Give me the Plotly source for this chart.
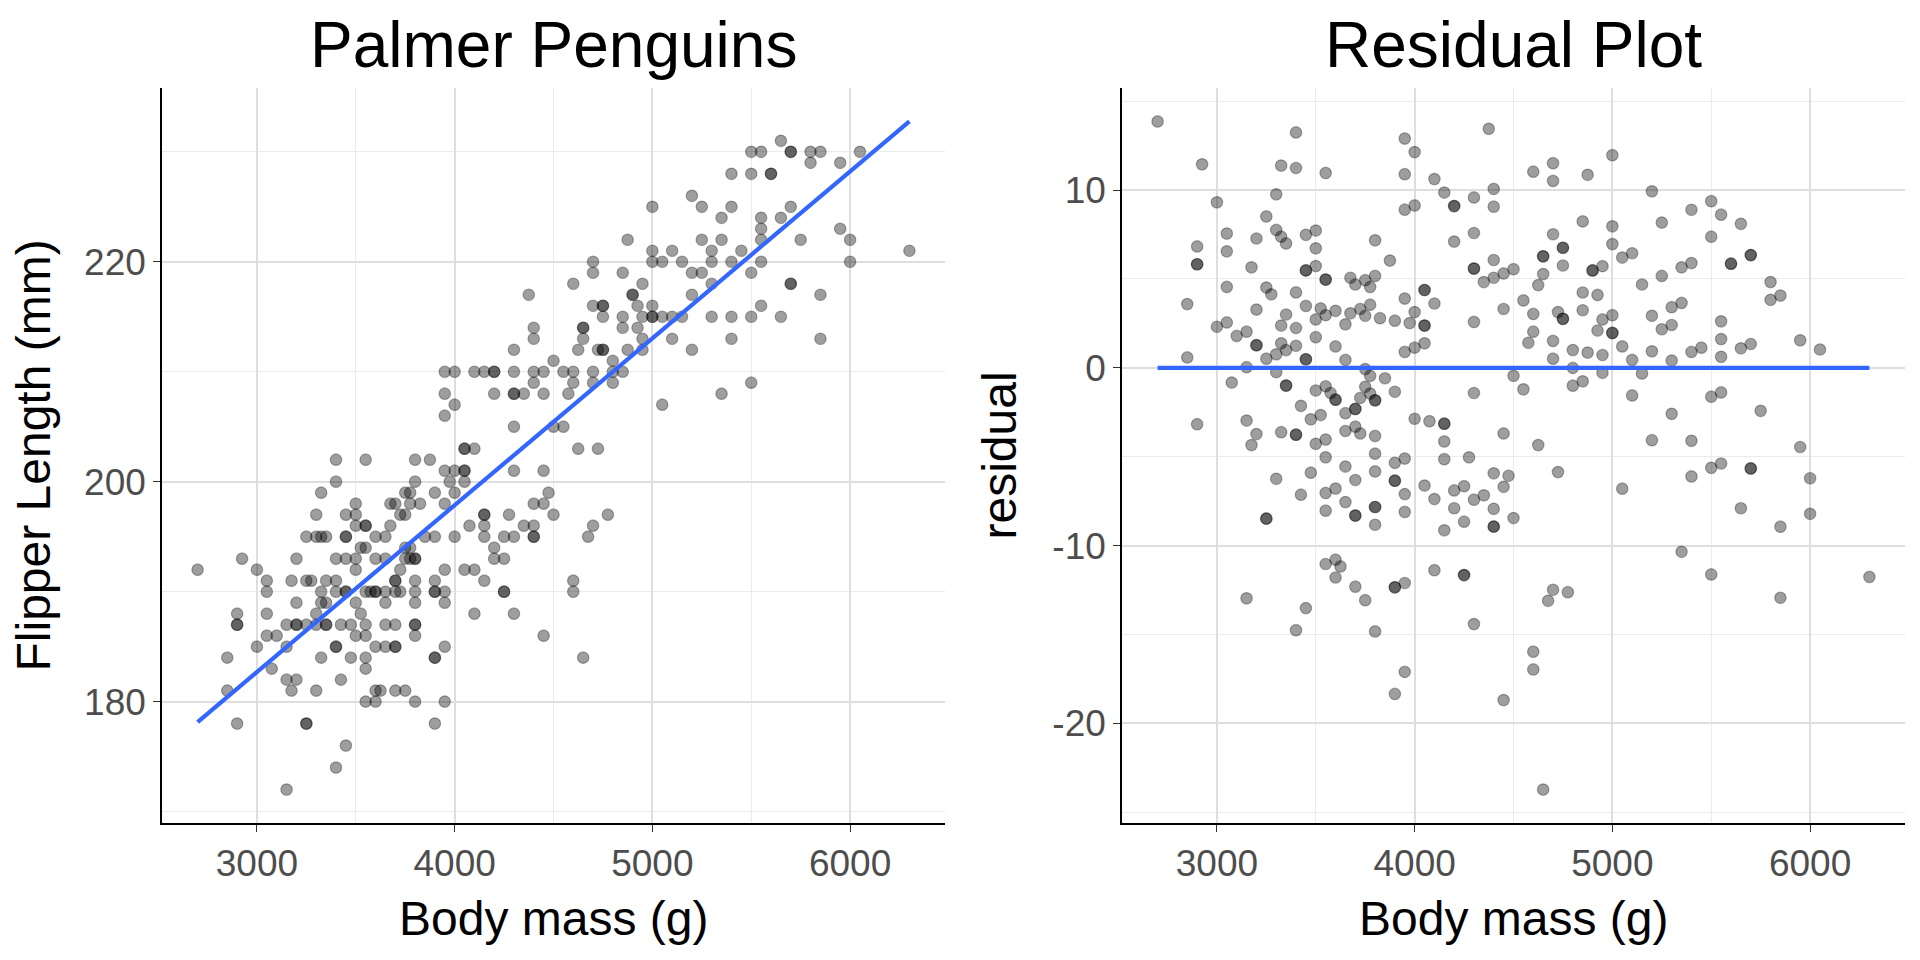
import numpy as np
import plotly.graph_objects as go

# Palmer penguins: one line per flipper length (mm)
body_mass_g = [
    3150,
    3400,
    3450,
    2900, 3250, 3250, 3900,
    3550, 3600, 3800, 3950,
    2850, 3175, 3300, 3600, 3625, 3700, 3750,
    3150, 3200, 3425,
    3075, 3550,
    2850, 3325, 3475, 3550, 3900, 3900, 4650,
    3000, 3150, 3400, 3400, 3600, 3650, 3700, 3700, 3950,
    3050, 3100, 3500, 3550, 3800, 4450,
    2900, 2900, 3150, 3200, 3200, 3250, 3300, 3350, 3350, 3425, 3475, 3550, 3650, 3700, 3800, 3800,
    2900, 3050, 3300, 3525, 4100, 4300,
    3200, 3325, 3350, 3500, 3650, 3800, 3950,
    3050, 3325, 3400, 3450, 3450, 3550, 3575, 3600, 3600, 3650, 3700, 3725, 3800, 3900, 3900, 3950, 4250, 4250, 4600,
    3050, 3175, 3250, 3275, 3350, 3400, 3700, 3700, 3800, 3900, 4150, 4600,
    2700, 3000, 3500, 3725, 3950, 4050, 4100,
    2925, 3200, 3400, 3450, 3500, 3600, 3650, 3750, 3775, 3800, 3800, 4200, 4250,
    3525, 3550, 3750, 3775, 4200,
    3250, 3300, 3325, 3350, 3450, 3450, 3600, 3650, 3850, 3900, 4000, 4150, 4250, 4300, 4400, 4400, 4675,
    3500, 3550, 3550, 3675, 4075, 4150, 4350, 4400, 4700,
    3300, 3450, 3500, 3725, 3750, 4150, 4150, 4275, 4500, 4775,
    3500, 3675, 3700, 3775, 3825, 3950, 4400, 4450,
    3325, 3750, 3775, 3900, 4000, 4475,
    3400, 3800, 3975, 4050,
    3950, 4000, 4050, 4050, 4300, 4450,
    3400, 3550, 3800, 3875,
    4050, 4050, 4100, 4625, 4725,
    4300, 4500, 4550,
    3950,
    4000, 5050,
    3950, 4200, 4300, 4300, 4350, 4450, 4575, 5350,
    4400, 4600, 4700, 4800, 5500,
    3950, 4000, 4100, 4150, 4200, 4200, 4300, 4400, 4450, 4550, 4600, 4700, 4800, 4850,
    4500, 4800,
    4300, 4625, 4725, 4750, 4750, 4875, 4950, 5200,
    4400, 4650, 4950, 5100, 5400, 5850,
    4400, 4650, 4650, 4850, 4925,
    4750, 4850, 4950, 5000, 5000, 5050, 5100, 5150, 5300, 5400, 5500, 5650,
    4700, 4750, 4750, 4925, 5000, 5550,
    4375, 4900, 4900, 5200, 5850,
    4600, 4950, 5300, 5700, 5700,
    4700, 4850, 5200, 5250, 5500,
    4700, 5000, 5050, 5150, 5300, 5400, 5550, 6000,
    5000, 5100, 5300, 5450, 6300,
    4875, 5250, 5350, 5550, 5750, 6000,
    5550, 5950,
    5350, 5550, 5650,
    5000, 5250, 5400, 5700,
    5200,
    5400, 5500, 5600, 5600,
    5800, 5950,
    5500, 5550, 5700, 5700, 5800, 5850, 6050,
    5650,
]
flipper_length_mm = [
    172,
    174,
    176,
    178, 178, 178, 178,
    180, 180, 180, 180,
    181, 181, 181, 181, 181, 181, 181,
    182, 182, 182,
    183, 183,
    184, 184, 184, 184, 184, 184, 184,
    185, 185, 185, 185, 185, 185, 185, 185, 185,
    186, 186, 186, 186, 186, 186,
    187, 187, 187, 187, 187, 187, 187, 187, 187, 187, 187, 187, 187, 187, 187, 187,
    188, 188, 188, 188, 188, 188,
    189, 189, 189, 189, 189, 189, 189,
    190, 190, 190, 190, 190, 190, 190, 190, 190, 190, 190, 190, 190, 190, 190, 190, 190, 190, 190,
    191, 191, 191, 191, 191, 191, 191, 191, 191, 191, 191, 191,
    192, 192, 192, 192, 192, 192, 192,
    193, 193, 193, 193, 193, 193, 193, 193, 193, 193, 193, 193, 193,
    194, 194, 194, 194, 194,
    195, 195, 195, 195, 195, 195, 195, 195, 195, 195, 195, 195, 195, 195, 195, 195, 195,
    196, 196, 196, 196, 196, 196, 196, 196, 196,
    197, 197, 197, 197, 197, 197, 197, 197, 197, 197,
    198, 198, 198, 198, 198, 198, 198, 198,
    199, 199, 199, 199, 199, 199,
    200, 200, 200, 200,
    201, 201, 201, 201, 201, 201,
    202, 202, 202, 202,
    203, 203, 203, 203, 203,
    205, 205, 205,
    206,
    207, 207,
    208, 208, 208, 208, 208, 208, 208, 208,
    209, 209, 209, 209, 209,
    210, 210, 210, 210, 210, 210, 210, 210, 210, 210, 210, 210, 210, 210,
    211, 211,
    212, 212, 212, 212, 212, 212, 212, 212,
    213, 213, 213, 213, 213, 213,
    214, 214, 214, 214, 214,
    215, 215, 215, 215, 215, 215, 215, 215, 215, 215, 215, 215,
    216, 216, 216, 216, 216, 216,
    217, 217, 217, 217, 217,
    218, 218, 218, 218, 218,
    219, 219, 219, 219, 219,
    220, 220, 220, 220, 220, 220, 220, 220,
    221, 221, 221, 221, 221,
    222, 222, 222, 222, 222, 222,
    223, 223,
    224, 224, 224,
    225, 225, 225, 225,
    226,
    228, 228, 228, 228,
    229, 229,
    230, 230, 230, 230, 230, 230, 230,
    231,
]

x_ticks = [3000, 4000, 5000, 6000]
flipper_ticks = [180, 200, 220]
residual_ticks = [-20, -10, 0, 10]
residual_tick_text = ["-20", "-10", "0", "10"]

FONT = "Liberation Sans, Arial, sans-serif"

mass = np.array(body_mass_g, dtype=float)
flipper = np.array(flipper_length_mm, dtype=float)

# linear model flipper ~ mass, then residuals
slope, intercept = np.polyfit(mass, flipper, 1)
line_x = np.array([mass.min(), mass.max()])
line_y = intercept + slope * line_x
residual = flipper - (intercept + slope * mass)


def padded(lo, hi):
    pad = 0.05 * (hi - lo)
    return [lo - pad, hi + pad]


x_range = padded(mass.min(), mass.max())
y1_range = padded(min(flipper.min(), line_y.min()), max(flipper.max(), line_y.max()))
y2_range = padded(residual.min(), residual.max())

# the page body has an 8px margin, so the figure is laid out in a 1904x944 box
W, H, OFF = 1904, 944, 8


def px(x):
    return (x - OFF) / W


def py(y):
    return 1 - (y - OFF) / H


dot = dict(size=11.5, color="rgba(0,0,0,0.38)", line=dict(width=1.2, color="rgba(0,0,0,0.3)"))
blue = dict(color="#3366FF", width=4.2)

fig = go.Figure()
fig.add_trace(go.Scatter(x=mass, y=flipper, mode="markers", marker=dot, xaxis="x", yaxis="y"))
fig.add_trace(go.Scatter(x=line_x, y=line_y, mode="lines", line=blue, xaxis="x", yaxis="y"))
fig.add_trace(go.Scatter(x=mass, y=residual, mode="markers", marker=dot, xaxis="x2", yaxis="y2"))
fig.add_trace(go.Scatter(x=line_x, y=[0, 0], mode="lines", line=blue, xaxis="x2", yaxis="y2"))

axis_style = dict(
    showline=True, linecolor="black", linewidth=1.5,
    ticks="outside", ticklen=7, tickwidth=1.3, tickcolor="#333333",
    showgrid=True, gridcolor="#dedede", gridwidth=1.5, zeroline=False,
    tickfont=dict(family=FONT, size=37, color="#4d4d4d"),
)

left_dom = [px(162), px(945)]
right_dom = [px(1122), px(1905)]
y_dom = [py(823), py(88)]

fig.update_layout(
    width=W, height=H,
    margin=dict(l=0, r=0, t=0, b=0),
    paper_bgcolor="white", plot_bgcolor="white",
    showlegend=False,
    font=dict(family=FONT, color="black"),
    xaxis=dict(axis_style, domain=left_dom, range=x_range, anchor="y",
               tickvals=x_ticks,
               minor=dict(showgrid=True, gridcolor="#ebebeb", gridwidth=1, dtick=500, tick0=0)),
    yaxis=dict(axis_style, domain=y_dom, range=y1_range, anchor="x",
               tickvals=flipper_ticks,
               minor=dict(showgrid=True, gridcolor="#ebebeb", gridwidth=1, dtick=10, tick0=0)),
    xaxis2=dict(axis_style, domain=right_dom, range=x_range, anchor="y2",
                tickvals=x_ticks,
                minor=dict(showgrid=True, gridcolor="#ebebeb", gridwidth=1, dtick=500, tick0=0)),
    yaxis2=dict(axis_style, domain=y_dom, range=y2_range, anchor="x2",
                tickvals=residual_ticks, ticktext=residual_tick_text,
                minor=dict(showgrid=True, gridcolor="#ebebeb", gridwidth=1, dtick=5, tick0=0)),
)

labels = [
    ("Palmer Penguins", (left_dom[0] + left_dom[1]) / 2, py(45), 0, 64),
    ("Residual Plot", (right_dom[0] + right_dom[1]) / 2, py(45), 0, 64),
    ("Body mass (g)", (left_dom[0] + left_dom[1]) / 2, py(918), 0, 48),
    ("Body mass (g)", (right_dom[0] + right_dom[1]) / 2, py(918), 0, 48),
    ("Flipper Length (mm)", px(33), (y_dom[0] + y_dom[1]) / 2, -90, 48),
    ("residual", px(999), (y_dom[0] + y_dom[1]) / 2, -90, 48),
]
for text, x, y, angle, size in labels:
    fig.add_annotation(text=text, x=x, y=y, xref="paper", yref="paper",
                       xanchor="center", yanchor="middle", textangle=angle,
                       showarrow=False, font=dict(family=FONT, size=size, color="black"))

fig.write_html("out.html")
